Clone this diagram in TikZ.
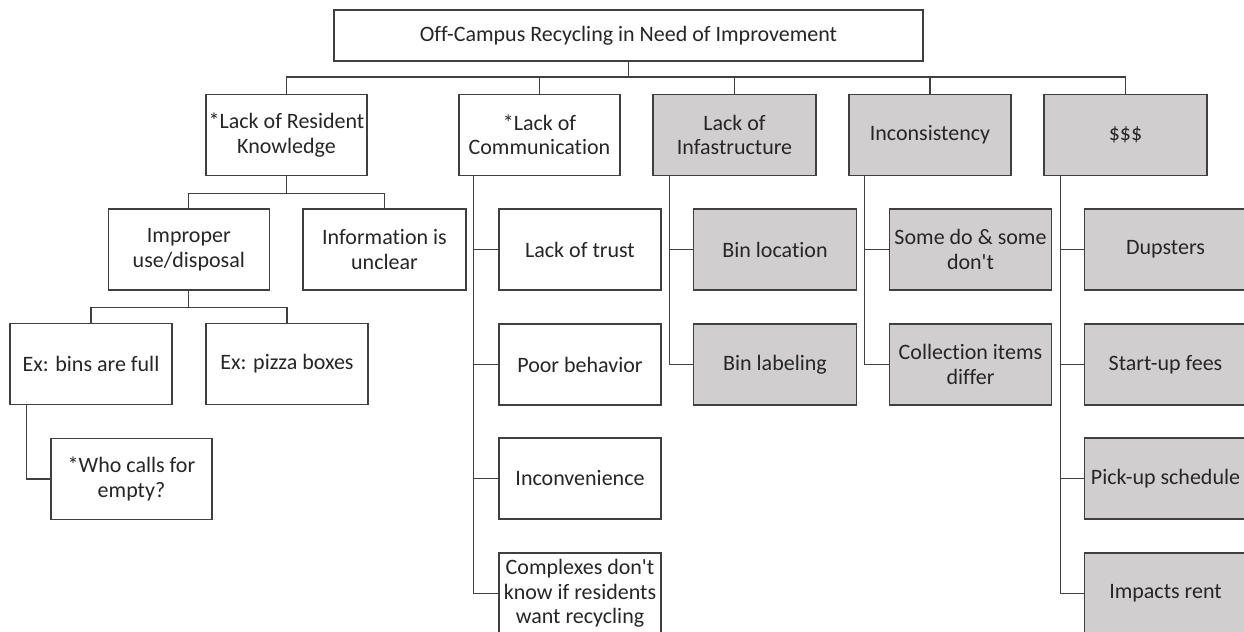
\documentclass[tikz,border=0pt]{standalone}
\usepackage{fontspec}
\setmainfont{Carlito}[Ligatures={TeXOff,NoCommon}]
\definecolor{boxgrey}{HTML}{D0CECE}
\definecolor{linegrey}{HTML}{404040}
\definecolor{textgrey}{HTML}{262626}
\begin{document}
\begin{tikzpicture}[x=0.5pt,y=-0.5pt,
		plainbox/.style={draw=linegrey, line width=0.7pt, fill=white, text=textgrey, align=center, minimum width=81pt, minimum height=40.5pt, inner sep=1pt, font=\fontsize{11}{12.25}\selectfont},
		greybox/.style={plainbox, fill=boxgrey},
		link/.style={draw=linegrey, line width=0.6pt}]
		\useasboundingbox (0,0) rectangle (1244,632);
		
		%RADICE
		\node[plainbox, minimum width=294.5pt, minimum height=25.5pt] (root) at (628.5,35.5) {Off-Campus Recycling in Need of Improvement};
		
		%LIVELLO 1
		\node[plainbox, minimum width=80.5pt] (know) at (286.5,135) {*Lack of Resident\\Knowledge};
		\node[plainbox, minimum width=80.5pt] (comm) at (539.5,135) {*Lack of\\Communication};
		\node[greybox, minimum width=81.5pt] (infra) at (734.5,135) {Lack of\\Infastructure};
		\node[greybox] (incons) at (930,135) {Inconsistency};
		\node[greybox, minimum width=81.5pt] (money) at (1125.5,135) {\$\$\$};
		
		%CONOSCENZA
		\node[plainbox, minimum width=80.5pt] (improper) at (188.8,249.5) {Improper\\use/disposal};
		\node[plainbox, minimum width=81.5pt] (info) at (384.5,249.5) {Information is\\unclear};
		\node[plainbox] (bins) at (91,364) {Ex: bins are full};
		\node[plainbox] (pizza) at (287,364) {Ex: pizza boxes};
		\node[plainbox, minimum width=80.5pt] (who) at (131.5,479) {*Who calls for\\empty?};
		
		%COMUNICAZIONE
		\node[plainbox] (trust) at (580,249.5) {Lack of trust};
		\node[plainbox] (behavior) at (580,364.5) {Poor behavior};
		\node[plainbox] (inconv) at (580,478.5) {Inconvenience};
		\node[plainbox] (complexes) at (580,593.5) {Complexes don't\\know if residents\\want recycling};
		
		%INFRASTRUTTURA
		\node[greybox, minimum width=81.5pt] (binloc) at (775,249.5) {Bin location};
		\node[greybox, minimum width=81.5pt] (binlab) at (775,364.5) {Bin labeling};
		
		%INCOERENZA
		\node[greybox] (somedo) at (970.5,249.5) {Some do \& some\\don't};
		\node[greybox] (items) at (970.5,364.5) {Collection items\\differ};
		
		%SOLDI
		\node[greybox] (dump) at (1165.5,249.5) {Dupsters};
		\node[greybox] (fees) at (1165.5,364.5) {Start-up fees};
		\node[greybox] (pickup) at (1165.5,478.5) {Pick-up schedule};
		\node[greybox] (rent) at (1165.5,593.5) {Impacts rent};
		
		%COLLEGAMENTI
		\coordinate (bus) at (628.5,77);
		\foreach \n in {know,comm,infra,incons,money}
			\draw[link] (root.south) |- (bus -| \n.north) -- (\n.north);
		\foreach \n in {improper,info}
			\draw[link] (know.south) -- ++(0,17) -| (\n.north);
		\foreach \n in {bins,pizza}
			\draw[link] (improper.south) -- ++(0,17) -| (\n.north);
		\draw[link] ([xshift=8.5pt]bins.south west) |- (who.west);
		\foreach \n in {trust,behavior,inconv,complexes}
			\draw[link] ([xshift=7.5pt]comm.south west) |- (\n.west);
		\foreach \n in {binloc,binlab}
			\draw[link] ([xshift=8.5pt]infra.south west) |- (\n.west);
		\foreach \n in {somedo,items}
			\draw[link] ([xshift=8pt]incons.south west) |- (\n.west);
		\foreach \n in {dump,fees,pickup,rent}
			\draw[link] ([xshift=8.5pt]money.south west) |- (\n.west);
	\end{tikzpicture}
\end{document}
